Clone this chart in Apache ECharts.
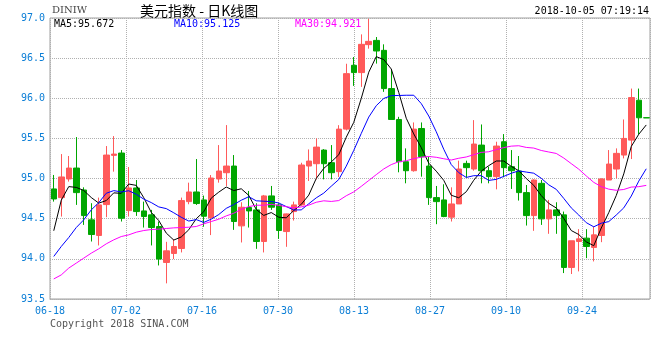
<!DOCTYPE html>
<html><head><meta charset="utf-8">
<script src="https://cdn.jsdelivr.net/npm/echarts@6/dist/echarts.min.js"></script>
<style>html,body{margin:0;padding:0;background:#fff}#c{width:660px;height:360px}</style>
</head><body><div id="c"></div>
<script>
const dates = ['06-18','06-19','06-20','06-21','06-22','06-25','06-26','06-27','06-28','06-29',
'07-02','07-03','07-04','07-05','07-06','07-09','07-10','07-11','07-12','07-13',
'07-16','07-17','07-18','07-19','07-20','07-23','07-24','07-25','07-26','07-27',
'07-30','07-31','08-01','08-02','08-03','08-06','08-07','08-08','08-09','08-10',
'08-13','08-14','08-15','08-16','08-17','08-20','08-21','08-22','08-23','08-24',
'08-27','08-28','08-29','08-30','08-31','09-03','09-04','09-05','09-06','09-07',
'09-10','09-11','09-12','09-13','09-14','09-17','09-18','09-19','09-20','09-21',
'09-24','09-25','09-26','09-27','09-28','10-01','10-02','10-03','10-04','10-05'];
const opens = [94.871,94.763,94.995,95.131,94.858,94.486,94.291,94.676,95.289,95.318,
94.601,94.883,94.597,94.548,94.403,93.955,94.067,94.129,94.713,94.833,
94.734,94.51,94.995,95.073,95.156,94.411,94.639,94.610,94.216,94.784,
94.672,94.34,94.589,94.672,95.156,95.185,95.355,95.198,95.086,95.616,
96.411,96.320,96.668,96.721,96.597,96.121,95.736,95.21,95.098,95.624,
95.156,94.763,94.734,94.519,94.684,95.189,95.119,95.417,95.098,95.024,
95.459,95.148,95.094,94.825,94.539,94.941,94.498,94.610,94.548,93.893,
94.216,94.258,94.142,94.291,94.982,95.119,95.293,95.479,95.976,95.758];
const closes = [94.746,95.020,95.131,94.825,94.539,94.303,94.672,95.293,95.305,94.506,
94.883,94.589,94.527,94.390,93.997,94.100,94.154,94.726,94.833,94.689,
94.531,95.007,95.094,95.156,94.465,94.643,94.597,94.216,94.784,94.643,
94.353,94.56,94.672,95.169,95.218,95.392,95.185,95.073,95.616,96.307,
96.320,96.672,96.709,96.589,96.121,95.736,95.21,95.098,95.616,95.272,
94.763,94.713,94.527,94.684,95.119,95.136,95.430,95.098,95.024,95.405,
95.136,95.098,94.825,94.539,94.982,94.498,94.610,94.539,93.893,94.225,
94.249,94.154,94.299,94.995,95.181,95.314,95.5,96.009,95.757,95.756];
const lows = [94.713,94.527,94.962,94.672,94.423,94.216,94.167,94.519,95.086,94.465,
94.527,94.535,94.390,94.167,93.918,93.695,93.997,94.080,94.680,94.672,
94.40,94.296,94.949,94.908,94.361,94.204,94.390,94.125,94.080,94.610,
94.249,94.15,94.477,94.660,94.970,94.990,94.990,94.99,95.02,95.60,
96.154,96.142,96.618,96.432,96.080,95.736,95.078,94.941,95.086,95.024,
94.672,94.432,94.519,94.465,94.684,95.011,95.098,94.941,94.941,94.866,
95.016,94.871,94.726,94.415,94.349,94.423,94.312,94.312,93.823,93.811,
93.844,94.009,93.968,94.208,94.982,95.003,95.251,95.243,95.550,95.756];
const highs = [95.045,95.305,95.281,95.517,94.891,94.693,94.763,95.405,95.529,95.355,
95.144,94.982,94.713,94.610,94.465,94.212,94.245,94.763,94.949,95.243,
94.788,95.044,95.417,95.666,95.293,94.705,94.846,94.693,94.796,94.908,
94.693,94.564,94.713,95.197,95.363,95.5,95.367,95.417,95.665,96.43,
96.514,96.796,96.99,96.763,96.672,96.361,95.769,95.376,95.699,95.699,
95.272,94.908,94.929,94.891,95.223,95.223,95.728,95.674,95.148,95.459,
95.554,95.355,95.281,94.920,94.991,94.982,94.734,94.705,94.589,94.225,
94.370,94.370,94.403,95.003,95.355,95.376,95.736,96.121,96.121,95.758];
const ma5 = [94.35,94.73,94.90,94.89,94.852,94.764,94.694,94.726,94.822,94.816,
94.932,94.915,94.762,94.579,94.477,94.321,94.234,94.273,94.362,94.500,
94.587,94.757,94.831,94.895,94.851,94.873,94.791,94.615,94.541,94.577,
94.519,94.511,94.602,94.679,94.794,95.002,95.127,95.207,95.297,95.515,
95.700,95.998,96.325,96.519,96.482,96.365,96.073,95.751,95.556,95.386,
95.192,95.092,94.978,94.792,94.761,94.836,94.979,95.093,95.161,95.219,
95.219,95.152,95.098,95.001,94.916,94.788,94.691,94.634,94.504,94.353,
94.303,94.212,94.164,94.384,94.576,94.789,95.058,95.400,95.552,95.668];
const ma10 = [94.03,94.154,94.266,94.39,94.486,94.61,94.70,94.817,94.85,94.834,
94.848,94.805,94.744,94.701,94.647,94.626,94.574,94.518,94.471,94.489,
94.454,94.495,94.552,94.629,94.676,94.730,94.774,94.723,94.718,94.714,
94.696,94.651,94.609,94.610,94.686,94.760,94.819,94.905,94.988,95.155,
95.351,95.562,95.766,95.908,95.998,96.033,96.035,96.038,96.038,95.934,
95.779,95.583,95.365,95.174,95.074,95.014,95.036,95.036,94.977,94.990,
95.027,95.066,95.096,95.081,95.067,95.004,94.922,94.866,94.753,94.635,
94.546,94.451,94.399,94.444,94.464,94.546,94.635,94.782,94.968,95.122];
const ma30 = [93.75,93.80,93.885,93.947,94.009,94.071,94.125,94.187,94.237,94.278,
94.299,94.332,94.353,94.365,94.370,94.378,94.386,94.39,94.394,94.403,
94.436,94.465,94.494,94.535,94.568,94.618,94.651,94.668,94.668,94.679,
94.666,94.650,94.635,94.647,94.669,94.705,94.723,94.715,94.726,94.786,
94.834,94.903,94.976,95.049,95.120,95.174,95.210,95.222,95.248,95.267,
95.275,95.265,95.247,95.231,95.253,95.269,95.297,95.326,95.334,95.360,
95.386,95.404,95.409,95.388,95.380,95.350,95.331,95.313,95.256,95.186,
95.117,95.033,94.953,94.900,94.868,94.854,94.864,94.894,94.899,94.915];
const dateTicks = ['06-18','07-02','07-16','07-30','08-13','08-27','09-10','09-24'];
const maNames = ['MA5','MA10','MA30'];
const maLast = ['95.672','95.125','94.921'];
const maColors = ['#000000','#0000ff','#ff00ff'];
const symbolName = 'DINIW';
const titleText = '美元指数 - 日K线图';
const timeText = '2018-10-05 07:19:14';
const copyText = 'Copyright 2018 SINA.COM';

const kData = opens.map((o, i) => [o, closes[i], lows[i], highs[i]]);
const mono = 'DejaVu Sans Mono';
const chart = echarts.init(document.getElementById('c'), null, {renderer: 'canvas'});
const gridW = 600;
chart.setOption({
  animation: false,
  backgroundColor: '#fff',
  grid: {left: 50, top: 18, width: gridW, height: 281, show: true, borderColor: '#a0a0a0', borderWidth: 1, backgroundColor: 'transparent'},
  xAxis: [
    {type: 'category', data: dates, show: false, boundaryGap: true},
    {type: 'value', position: 'bottom', min: 0, max: gridW / 76, interval: 1,
     axisLine: {show: true, onZero: false, lineStyle: {color: '#b0b0b0', type: 'dotted'}},
     axisTick: {show: false},
     axisLabel: {color: '#0b7ed6', fontFamily: mono, fontSize: 10, margin: 7,
       formatter: v => (Number.isInteger(v) && dateTicks[v]) ? dateTicks[v] : ''},
     splitLine: {show: true, lineStyle: {color: '#b0b0b0', type: 'dotted'}}}
  ],
  yAxis: {type: 'value', min: 93.5, max: 97, interval: 0.5, scale: true,
    axisLine: {show: false}, axisTick: {show: false},
    axisLabel: {color: '#0b7ed6', fontFamily: mono, fontSize: 10, margin: 5, formatter: v => v.toFixed(1)},
    splitLine: {show: true, lineStyle: {color: '#b0b0b0', type: 'dotted'}}},
  series: [
    {type: 'candlestick', xAxisIndex: 0, data: kData, barWidth: 6,
     itemStyle: {color: '#ff5a5a', color0: '#00a600', borderColor: '#ff5a5a', borderColor0: '#00a600', borderWidth: 1}},
    {type: 'line', xAxisIndex: 0, data: ma5, showSymbol: false, z: 5, lineStyle: {color: maColors[0], width: 1}},
    {type: 'line', xAxisIndex: 0, data: ma10, showSymbol: false, z: 5, lineStyle: {color: maColors[1], width: 1}},
    {type: 'line', xAxisIndex: 0, data: ma30, showSymbol: false, z: 5, lineStyle: {color: maColors[2], width: 1}}
  ],
  graphic: [
    {type: 'text', left: 52, top: 5, style: {text: symbolName, font: '10px "DejaVu Serif"', fill: '#444'}},
    {type: 'text', left: 140, top: 4, style: {text: titleText, font: '14px "Noto Sans CJK SC"', fill: '#000'}},
    {type: 'text', right: 11, top: 6, style: {text: timeText, font: '10px "DejaVu Sans Mono"', fill: '#000'}},
    {type: 'text', left: 50, top: 319, style: {text: copyText, font: '10px "DejaVu Sans Mono"', fill: '#555'}},
    {type: 'text', left: 54, top: 19, z: 10, style: {text: maNames[0] + ':' + maLast[0], font: '10px "DejaVu Sans Mono"', fill: maColors[0]}},
    {type: 'text', left: 174, top: 19, z: 10, style: {text: maNames[1] + ':' + maLast[1], font: '10px "DejaVu Sans Mono"', fill: maColors[1]}},
    {type: 'text', left: 295, top: 19, z: 10, style: {text: maNames[2] + ':' + maLast[2], font: '10px "DejaVu Sans Mono"', fill: maColors[2]}}
  ]
});
</script></body></html>
